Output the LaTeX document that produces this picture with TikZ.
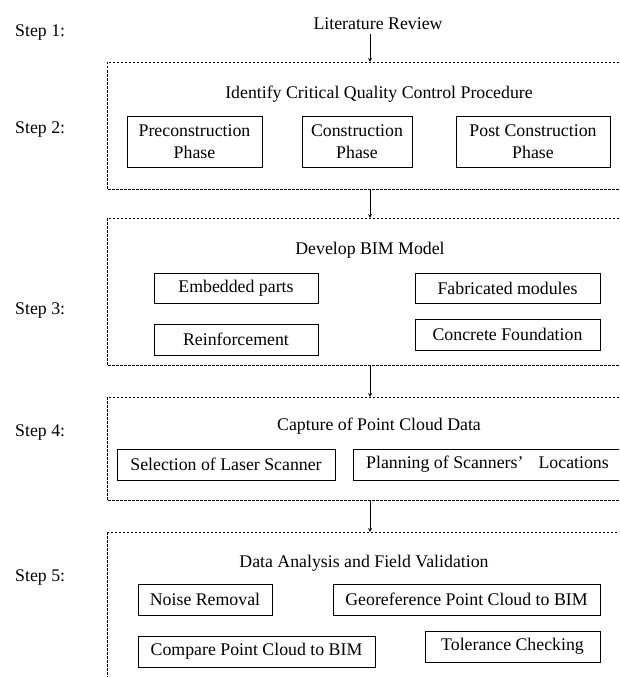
\documentclass[tikz,border=0pt]{standalone}
\usepackage{fontspec}
\setmainfont{Liberation Serif}
\usetikzlibrary{arrows, positioning, calc}

\tikzset{
  box/.style={draw, line width=0.8pt, inner sep=2pt, align=center},
  frame/.style={draw, line width=0.7pt, dash pattern=on 2.5pt off 1.5pt},
  arr/.style={-stealth, line width=0.8pt},
  steplbl/.style={anchor=west, inner sep=0pt},
}

\begin{document}
\begin{tikzpicture}[x=1pt, y=-1pt, font=\fontsize{17.8}{22}\selectfont]
    \useasboundingbox (0,0) rectangle (619,677);
    \clip (0,0) rectangle (619,677);
    % arrows run down this line
    \def\ax{370}
    % step labels
    \node[steplbl] (s1) at (15,33) {Step 1:};
    \node[steplbl] (s2) at (15,130) {Step 2:};
    \node[steplbl] (s3) at (15,310) {Step 3:};
    \node[steplbl] (s4) at (15,432) {Step 4:};
    \node[steplbl] (s5) at (15,577) {Step 5:};
    % dashed frames, right and bottom sides run off the page
    \draw[frame] (107,62) rectangle (660,189);
    \draw[frame] (107,218) rectangle (660,365);
    \draw[frame] (107,397) rectangle (660,500);
    \draw[frame] (107,532) rectangle (660,720);
    \coordinate (f1n) at (\ax,62);
    \coordinate (f1s) at (\ax,189);
    \coordinate (f2n) at (\ax,218);
    \coordinate (f2s) at (\ax,365);
    \coordinate (f3n) at (\ax,397);
    \coordinate (f3s) at (\ax,500);
    \coordinate (f4n) at (\ax,532);
    % step 1
    \node (lit) at (378,24) {Literature Review};
    % step 2
    \node (idfy) at (379,94) {Identify Critical Quality Control Procedure};
    \node[box, minimum width=135pt, minimum height=51pt] (pre) at (194.5,141.5) {Preconstruction\\Phase};
    \node[box, minimum width=110pt, minimum height=51pt] (cons) at (357,141.5) {Construction\\Phase};
    \node[box, minimum width=154pt, minimum height=51pt] (post) at (533,141.5) {Post Construction\\Phase};
    % step 3
    \node (bim) at (370,250) {Develop BIM Model};
    \node[box, minimum width=164pt, minimum height=30pt] (emb) at (236,288) {Embedded parts};
    \node[box, minimum width=185pt, minimum height=30pt] (fab) at (507.5,288) {Fabricated modules};
    \node[box, minimum width=164pt, minimum height=31pt] (reinf) at (236,339.5) {Reinforcement};
    \node[box, minimum width=185pt, minimum height=31pt] (conc) at (507.5,334.5) {Concrete Foundation};
    % step 4
    \node (cap) at (379,426) {Capture of Point Cloud Data};
    \node[box, minimum width=218pt, minimum height=31pt] (sel) at (226,464.5) {Selection of Laser Scanner};
    \node[box, minimum width=269pt, minimum height=31pt] (plan) at (487.5,464.5) {Planning of Scanners’\hspace{0.6em} Locations};
    % step 5
    \node (ana) at (364,563) {Data Analysis and Field Validation};
    \node[box, minimum width=134pt, minimum height=31pt] (noise) at (205,599.5) {Noise Removal};
    \node[box, minimum width=267pt, minimum height=31pt] (geo) at (466.5,599.5) {Georeference Point Cloud to BIM};
    \node[box, minimum width=237pt, minimum height=31pt] (comp) at (256.5,651.5) {Compare Point Cloud to BIM};
    \node[box, minimum width=175pt, minimum height=31pt] (tol) at (512.5,646.5) {Tolerance Checking};
    % arrows between steps
    \draw[arr] (lit.south -| f1n) -- (f1n);
    \draw[arr] (f1s) -- (f2n);
    \draw[arr] (f2s) -- (f3n);
    \draw[arr] (f3s) -- (f4n);
\end{tikzpicture}
\end{document}
